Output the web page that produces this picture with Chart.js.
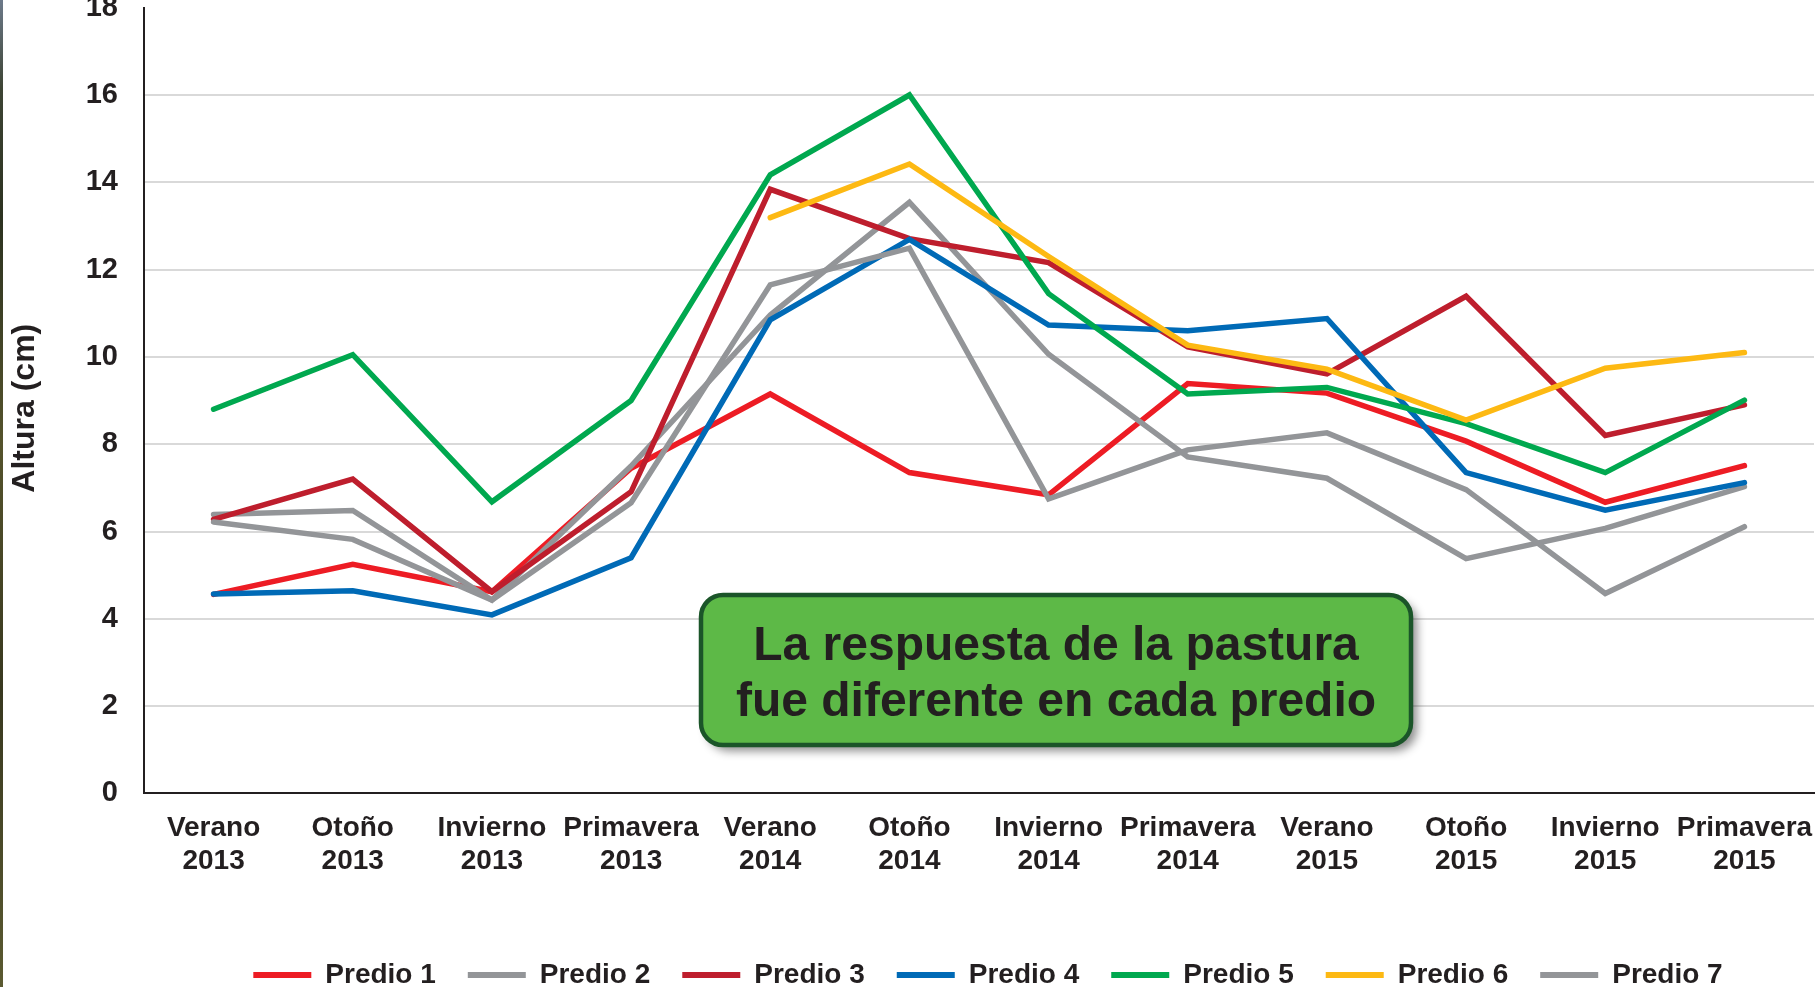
<!DOCTYPE html>
<html>
<head>
<meta charset="utf-8">
<script src="https://cdn.jsdelivr.net/npm/chart.js@4.4.1/dist/chart.umd.min.js"></script>
<style>
    html, body { margin: 0; padding: 0; background: #fff; overflow: hidden; }
    #wrap { position: absolute; left: 0; top: 0; width: 1817px; height: 999px; }
    #edge {
        position: absolute; left: 0; top: 0; width: 3px; height: 987px; z-index: 2;
        background: linear-gradient(#6d7a8a 0%, #3d4434 9%, #2c3220 22%, #55532c 45%, #38381f 70%, #5b5a31 100%);
    }
</style>
</head>
<body>
<div id="wrap"><canvas id="myChart"></canvas></div>
<div id="edge"></div>
<script>
const categories = [
    ["Verano", "2013"], ["Otoño", "2013"], ["Invierno", "2013"], ["Primavera", "2013"],
    ["Verano", "2014"], ["Otoño", "2014"], ["Invierno", "2014"], ["Primavera", "2014"],
    ["Verano", "2015"], ["Otoño", "2015"], ["Invierno", "2015"], ["Primavera", "2015"]
];

const predio1 = [4.56, 5.25, 4.62, 7.45, 9.15, 7.35, 6.84, 9.39, 9.17, 8.07, 6.67, 7.51];
const predio2 = [6.39, 6.48, 4.43, 7.50, 10.96, 13.54, 10.06, 7.71, 7.22, 5.38, 6.07, 7.03];
const predio3 = [6.28, 7.20, 4.62, 6.91, 13.84, 12.71, 12.16, 10.23, 9.61, 11.39, 8.20, 8.90];
const predio4 = [4.57, 4.64, 4.09, 5.40, 10.85, 12.69, 10.73, 10.60, 10.88, 7.35, 6.49, 7.12];
const predio5 = [8.80, 10.05, 6.68, 9.00, 14.17, 16.00, 11.45, 9.15, 9.30, 8.47, 7.35, 9.01];
const predio6 = [null, null, null, null, 13.19, 14.42, 12.30, 10.27, 9.72, 8.55, 9.74, 10.10];
const predio7 = [6.22, 5.82, 4.43, 6.66, 11.65, 12.49, 6.75, 7.87, 8.26, 6.96, 4.58, 6.11];

const seriesNames = ["Predio 1", "Predio 2", "Predio 3", "Predio 4", "Predio 5", "Predio 6", "Predio 7"];
const seriesData = [predio1, predio2, predio3, predio4, predio5, predio6, predio7];
const seriesColors = ["#ED1C24", "#939598", "#BE1E2D", "#006AB6", "#00A84F", "#FDB913", "#939598"];

const yMin = 0;
const yMax = 18;
const yStep = 2;

const calloutLines = ["La respuesta de la pastura", "fue diferente en cada predio"];

const FONT = "'Liberation Sans', Arial, sans-serif";
const TEXT = "#231F20";

// green note box over the plot
const calloutPlugin = {
    id: "callout",
    afterDraw(chart) {
        const c = chart.ctx;
        const x = 701, y = 595, w = 710, h = 150;
        c.save();
        c.shadowColor = "rgba(0,0,0,0.45)";
        c.shadowBlur = 10;
        c.shadowOffsetX = 6;
        c.shadowOffsetY = 6;
        c.beginPath();
        c.roundRect(x, y, w, h, 22);
        c.fillStyle = "#5DB947";
        c.fill();
        c.shadowColor = "transparent";
        c.lineWidth = 4.5;
        c.strokeStyle = "#1B5529";
        c.stroke();
        c.fillStyle = TEXT;
        c.font = "bold 48px " + FONT;
        c.textAlign = "center";
        c.textBaseline = "middle";
        c.fillText(calloutLines[0], x + w / 2, y + h / 2 - 23);
        c.fillText(calloutLines[1], x + w / 2, y + h / 2 + 33);
        c.restore();
    }
};

// legend sits centred under the plot area, not the canvas
const legendShift = {
    id: "legendShift",
    afterLayout(chart) {
        chart.legend.left += 81;
        chart.legend.right += 81;
    }
};

const ctx = document.getElementById("myChart").getContext("2d");

new Chart(ctx, {
    type: "line",
    data: {
        labels: categories,
        datasets: seriesData.map((d, i) => ({
            label: seriesNames[i],
            data: d,
            borderColor: seriesColors[i],
            backgroundColor: seriesColors[i],
            borderWidth: 5.5,
            borderCapStyle: "round",
            borderJoinStyle: "miter",
            pointRadius: 0,
            tension: 0,
            fill: false,
            order: seriesData.length - i
        }))
    },
    options: {
        responsive: true,
        maintainAspectRatio: false,
        animation: false,
        layout: { padding: { top: 7.7, right: 3, left: 0, bottom: 0 } },
        scales: {
            x: {
                offset: true,
                grid: { display: false, drawTicks: false },
                border: { display: true, color: TEXT, width: 2 },
                ticks: {
                    color: TEXT,
                    font: { family: FONT, size: 28, weight: "bold", lineHeight: 1.16 },
                    padding: 19,
                    maxRotation: 0,
                    autoSkip: false
                },
                afterFit: s => { s.height = 135.6; s.paddingLeft = 0; s.paddingRight = 0; }
            },
            y: {
                min: yMin,
                max: yMax,
                ticks: {
                    stepSize: yStep,
                    color: TEXT,
                    font: { family: FONT, size: 29, weight: "bold" },
                    padding: 26
                },
                grid: {
                    color: c => (c.tick && c.tick.value === yMax) ? "rgba(0,0,0,0)" : "#D9D9D9",
                    lineWidth: 2,
                    drawTicks: false
                },
                border: { display: true, color: TEXT, width: 2 },
                title: {
                    display: true,
                    text: "Altura (cm)\u00a0\u2009",
                    color: TEXT,
                    font: { family: FONT, size: 32, weight: "bold", lineHeight: 1.2 },
                    padding: { top: 6 }
                },
                afterFit: s => { s.width = 144; s.paddingTop = 0; s.paddingBottom = 0; }
            }
        },
        plugins: {
            tooltip: { enabled: false },
            legend: {
                position: "bottom",
                labels: {
                    usePointStyle: true,
                    pointStyle: "line",
                    pointStyleWidth: 58,
                    padding: 32,
                    color: TEXT,
                    font: { family: FONT, size: 28, weight: "bold" },
                    generateLabels: chart => Chart.defaults.plugins.legend.labels.generateLabels(chart)
                        .map(l => Object.assign(l, { lineWidth: 6 }))
                        .sort((a, b) => a.datasetIndex - b.datasetIndex)
                }
            }
        }
    },
    plugins: [calloutPlugin, legendShift]
});
</script>
</body>
</html>
